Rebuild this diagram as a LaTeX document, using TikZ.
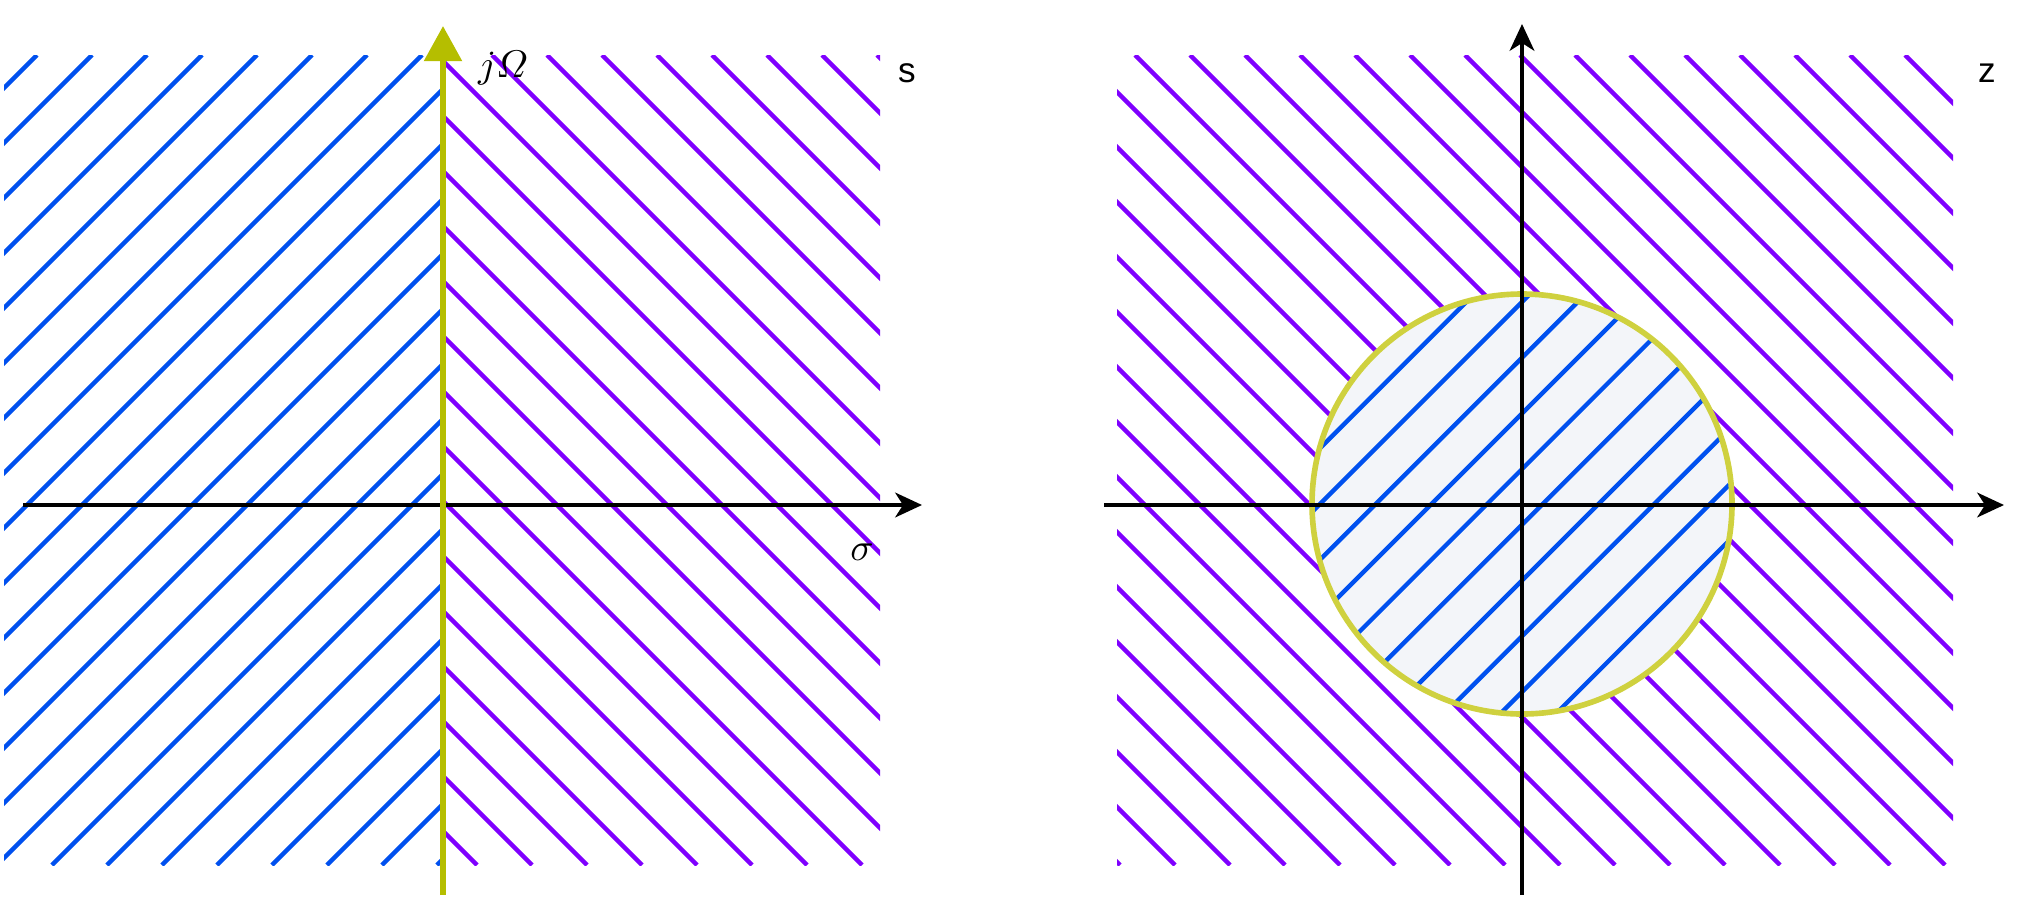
\documentclass[tikz,border=0pt]{standalone}
\usepackage{fontspec}
\newfontfamily\helv{Liberation Sans}
\usetikzlibrary{arrows.meta}
\definecolor{hpurple}{HTML}{7F00FF}
\definecolor{hblue}{HTML}{0050EF}
\definecolor{axisyellow}{HTML}{B5BE00}
\definecolor{ringyellow}{HTML}{CFD13F}
\definecolor{diskfill}{HTML}{F3F5F9}
\begin{document}
\begin{tikzpicture}[x=0.01cm,y=-0.01cm,
  hatchP/.style={hpurple, line width=1.25pt},
  hatchB/.style={hblue, line width=1.25pt},
  axisline/.style={black, line width=1.2pt, -{Stealth[length=7.6pt,width=7pt,inset=2.2pt]}},
  yaxis/.style={axisyellow, line width=1.7pt, -{Stealth[length=10pt,width=10.5pt,inset=0pt]}},
  ring/.style={ringyellow, line width=1.6pt},
  mathlabel/.style={inner sep=0pt, font=\fontsize{11}{13}\selectfont},
  planelabel/.style={inner sep=0pt, font=\helv\fontsize{10}{12}\selectfont}]
\useasboundingbox (0,0) rectangle (2034,921);
% ---------- left panel (s-plane) ----------
\begin{scope}
  \clip (4,55) rectangle (443,865);
  \foreach \k in {0,...,25} {
    \pgfmathsetmacro{\c}{37+55*\k}
    \draw[hatchB] ({\c-55},55) -- ({\c-865},865);
  }
\end{scope}
\begin{scope}
  \clip (443,55) rectangle (880,865);
  \foreach \k in {-9,...,16} {
    \pgfmathsetmacro{\c}{52+55*\k}
    \draw[hatchP] ({\c+55},55) -- ({\c+865},865);
  }
\end{scope}
\coordinate (sxa) at (23,505);
\coordinate (sxb) at (922,505);
\coordinate (sya) at (443,895);
\coordinate (syb) at (443,26);
\draw[axisline] (sxa) -- (sxb);
\draw[yaxis] (sya) -- (syb);
\node[mathlabel] (jw) at (503,68) {$j\mathnormal{\Omega}$};
\node[mathlabel] (sig) at (862,552) {$\sigma$};
\node[planelabel] (slab) at (907,73) {s};
% ---------- right panel (z-plane) ----------
\begin{scope}
  \clip (1117,55) rectangle (1953,865);
  \foreach \k in {4,...,36} {
    \pgfmathsetmacro{\c}{35+55*\k}
    \draw[hatchP] ({\c+55},55) -- ({\c+865},865);
  }
\end{scope}
\coordinate (zc) at (1522,504);
\fill[diskfill] (zc) circle (210);
\begin{scope}
  \clip (zc) circle (210);
  \foreach \k in {-3,...,10} {
    \pgfmathsetmacro{\c}{1824+55.7*\k}
    \draw[hatchB] ({\c-1000},1000) -- ({\c},0);
  }
\end{scope}
\draw[ring] (zc) circle (210);
\coordinate (zxa) at (1104,505);
\coordinate (zxb) at (2004,505);
\coordinate (zya) at (1522,895);
\coordinate (zyb) at (1522,24);
\draw[axisline] (zxa) -- (zxb);
\draw[axisline] (zya) -- (zyb);
\node[planelabel] (zlab) at (1987,73) {z};
\end{tikzpicture}
\end{document}
